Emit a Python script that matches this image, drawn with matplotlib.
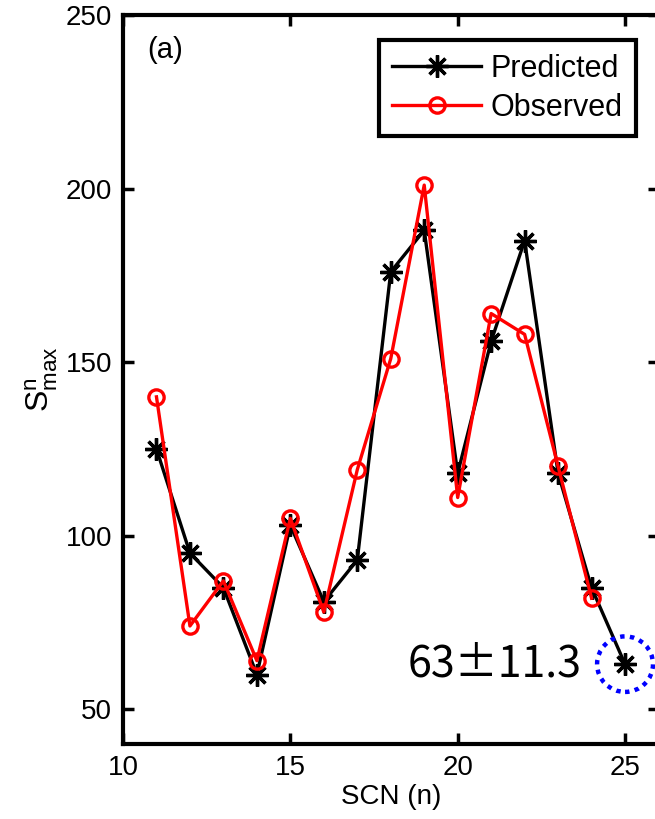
import matplotlib
matplotlib.use("Agg")
import matplotlib.pyplot as plt
from matplotlib.patches import Ellipse

scn = [11, 12, 13, 14, 15, 16, 17, 18, 19, 20, 21, 22, 23, 24, 25]
predicted = [125, 95, 85, 60, 103, 81, 93, 176, 188, 118, 156, 185, 118, 85, 63]
scn_obs = [11, 12, 13, 14, 15, 16, 17, 18, 19, 20, 21, 22, 23, 24]
observed = [140, 74, 87, 64, 105, 78, 119, 151, 201, 111, 164, 158, 120, 82]
x_ticks = [10, 15, 20, 25]
y_ticks = [50, 100, 150, 200, 250]
highlight_n = 25
highlight_val = 63
highlight_err = 11.3

plt.rcParams['font.family'] = ['Liberation Sans', 'DejaVu Sans']

fig = plt.figure(figsize=(6.55, 8.19), dpi=100)
ax = fig.add_axes([123 / 655, 75 / 819, 535.5 / 655, 729 / 819])

ax.plot(scn, predicted, color='black', lw=2.4, marker=(8, 2, 0),
        ms=16, mew=2.4, label='Predicted', zorder=3)
ax.plot(scn_obs, observed, color='red', lw=2.4, marker='o', ms=11,
        mfc='none', mec='red', mew=2.4, label='Observed', zorder=4)

ax.set_xlim(10, 26)
ax.set_ylim(40, 250)
ax.set_xticks(x_ticks)
ax.set_yticks(y_ticks)
ax.tick_params(direction='in', length=8, width=2.5, labelsize=20,
               top=True, right=True, pad=8)
for s in ax.spines.values():
    s.set_linewidth(3)

ax.set_xlabel('SCN (n)', fontsize=20, labelpad=2)
ax.set_ylabel(r'$\mathregular{S^{n}_{max}}$', fontsize=23, labelpad=4)

ax.text(0.045, 0.952, '(a)', transform=ax.transAxes, fontsize=21,
        va='center', ha='left')

# circle around the last predicted point
ax.add_patch(Ellipse((highlight_n, highlight_val), width=1.67, height=16.0,
                     fill=False, edgecolor='blue', lw=3.2, ls=(0, (1, 1.2)),
                     zorder=5))
ax.text(highlight_n - 1.3, highlight_val, f'{highlight_val}\u00b1{highlight_err}',
        fontsize=31, family=['Noto Sans CJK JP', 'DejaVu Sans'],
        ha='right', va='center')

leg = ax.legend(loc='upper right', bbox_to_anchor=(0.958, 0.966),
                fontsize=22, fancybox=False, framealpha=1,
                edgecolor='black', handlelength=2.9, handletextpad=0.3,
                borderpad=0.45, labelspacing=0.3, borderaxespad=0)
leg.get_frame().set_linewidth(3)

fig.savefig('out.png', dpi=100)
